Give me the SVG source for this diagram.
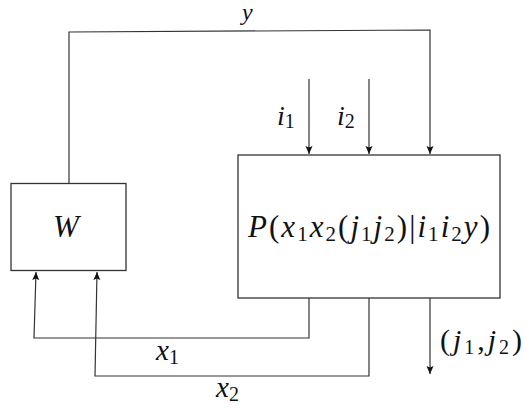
<svg xmlns="http://www.w3.org/2000/svg" width="526" height="408" viewBox="0 0 526 408">
<style>
.box{fill:#fff;stroke:#333;stroke-width:1.3}
.ln{fill:none;stroke:#333;stroke-width:1.2}
.r{font-style:normal}
</style>
<defs>
<marker id="arr" markerUnits="userSpaceOnUse" markerWidth="10" markerHeight="8" refX="8" refY="4" orient="auto">
<path d="M0,0.5 L8,4 L0,7.5 L1.5,4 Z" fill="#111"/>
</marker>
</defs>
<g font-family="Liberation Serif, DejaVu Serif, serif" font-style="italic" fill="#111">
<g id="W">
<rect class="box" x="11" y="183.5" width="115" height="87"/>
<text x="53" y="237" font-size="31">W</text>
</g>
<g id="P">
<rect class="box" x="238" y="155" width="262" height="143"/>
<text x="248" y="237" font-size="31" textLength="242" lengthAdjust="spacing">P<tspan class="r">(</tspan>x<tspan font-size="21" dy="4" class="r">1</tspan><tspan dy="-4">x</tspan><tspan font-size="21" dy="4" class="r">2</tspan><tspan dy="-4" class="r">(</tspan>j<tspan font-size="21" dy="4" class="r">1</tspan><tspan dy="-4">j</tspan><tspan font-size="21" dy="4" class="r">2</tspan><tspan dy="-4" class="r">)|</tspan>i<tspan font-size="21" dy="4" class="r">1</tspan><tspan dy="-4">i</tspan><tspan font-size="21" dy="4" class="r">2</tspan><tspan dy="-4">y</tspan><tspan class="r">)</tspan></text>
</g>
<g id="connectors">
<polyline class="ln" points="69,183 69,32 430,30 430,154" marker-end="url(#arr)"/>
<line class="ln" x1="309" y1="79" x2="309" y2="154" marker-end="url(#arr)"/>
<line class="ln" x1="369" y1="79" x2="369" y2="154" marker-end="url(#arr)"/>
<polyline class="ln" points="309,298 309,338 34,338 36,272" marker-end="url(#arr)"/>
<polyline class="ln" points="369,298 369,376 95,376 97,272" marker-end="url(#arr)"/>
<line class="ln" x1="430" y1="298" x2="430" y2="374" marker-end="url(#arr)"/>
</g>
<g id="labels">
<text x="242" y="20" font-size="24">y</text>
<text x="277" y="125" font-size="28">i<tspan font-size="20" dy="3" class="r">1</tspan></text>
<text x="337" y="125" font-size="28">i<tspan font-size="20" dy="3" class="r">2</tspan></text>
<text x="156" y="360" font-size="29">x<tspan font-size="20" dy="4" class="r">1</tspan></text>
<text x="216" y="397" font-size="29">x<tspan font-size="20" dy="4" class="r">2</tspan></text>
<text x="440" y="350" font-size="30" textLength="82" lengthAdjust="spacing"><tspan class="r">(</tspan>j<tspan font-size="20" dy="4" class="r">1</tspan><tspan dy="-4" class="r">,</tspan>j<tspan font-size="20" dy="4" class="r">2</tspan><tspan dy="-4" class="r">)</tspan></text>
</g>
</g>
</svg>
